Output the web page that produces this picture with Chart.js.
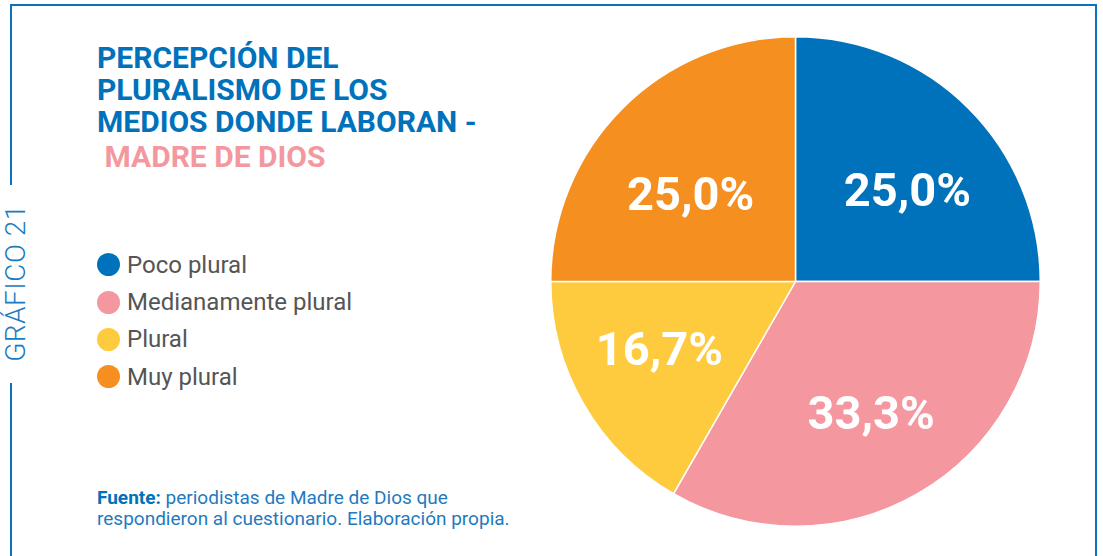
<!DOCTYPE html>
<html>
<head>
<meta charset="utf-8">
<script src="https://cdn.jsdelivr.net/npm/chart.js@4"></script>
<style>
  html, body { margin: 0; padding: 0; background: #fff; }
  body { width: 1103px; height: 556px; position: relative; overflow: hidden; font-family: Roboto, "Noto Sans", sans-serif; }
  .frame-top { position: absolute; left: 10px; top: 4px; width: 1087px; height: 2px; background: #0b72bb; }
  .frame-right { position: absolute; left: 1095px; top: 4px; width: 2px; height: 560px; background: #0b72bb; }
  .frame-left1 { position: absolute; left: 10px; top: 4px; width: 2px; height: 181px; background: #0b72bb; }
  .frame-left2 { position: absolute; left: 10px; top: 383px; width: 2px; height: 180px; background: #0b72bb; }
  .side { position: absolute; left: 15px; top: 283px; transform: translate(-50%, -50%) rotate(-90deg); color: #1a7ac2; font-weight: 300; font-size: 28px; white-space: nowrap; letter-spacing: 0.5px; }
  .title { position: absolute; left: 97px; top: 42px; color: #0071bb; font-weight: 700; font-size: 30px; line-height: 32px; }
  .title .pink { color: #f4989f; display: block; margin-top: 3px; }
  #legend { position: absolute; left: 97px; top: 246px; margin: 0; padding: 0; list-style: none; }
  #legend li { display: flex; align-items: center; height: 37.4px; color: #555; font-size: 24px; }
  #legend span.dot { width: 23px; height: 23px; border-radius: 50%; margin-right: 7px; }
  .note { position: absolute; left: 97px; top: 487px; color: #1f7ac0; font-size: 19px; line-height: 21px; }
  .note b { color: #0071bb; }
  #wrap { position: absolute; left: 550px; top: 36px; width: 491px; height: 491px; }
</style>
</head>
<body>
<div class="frame-top"></div>
<div class="frame-right"></div>
<div class="frame-left1"></div>
<div class="frame-left2"></div>
<div class="side">GRÁFICO 21</div>
<div class="title">PERCEPCIÓN DEL<br>PLURALISMO DE LOS<br>MEDIOS DONDE LABORAN -<span class="pink">&nbsp;MADRE DE DIOS</span></div>
<ul id="legend"></ul>
<div class="note"><b>Fuente:</b> periodistas de Madre de Dios que<br>respondieron al cuestionario. Elaboración propia.</div>
<div id="wrap"><canvas id="chartPie"></canvas></div>
<script>
const labels = ["Poco plural", "Medianamente plural", "Plural", "Muy plural"];
const values = [25.0, 33.3, 16.7, 25.0];
const colors = ["#0071bb", "#f4979f", "#ffcb3e", "#f58f20"];

// small nudges for the value labels, in px
const labelShift = [[8, 17], [2, 9], [-9, -2], [-1, 21]];

const valueLabels = {
  id: "valueLabels",
  afterDatasetsDraw(chart) {
    const ctx = chart.ctx;
    const meta = chart.getDatasetMeta(0);
    ctx.save();
    ctx.fillStyle = "#fff";
    ctx.font = "700 47px Roboto";
    ctx.textAlign = "center";
    ctx.textBaseline = "middle";
    meta.data.forEach(function (arc, i) {
      const mid = (arc.startAngle + arc.endAngle) / 2;
      const r = arc.outerRadius * 0.6;
      const x = arc.x + Math.cos(mid) * r + labelShift[i][0];
      const y = arc.y + Math.sin(mid) * r + labelShift[i][1];
      ctx.fillText(values[i].toFixed(1).replace(".", ",") + "%", x, y);
    });
    ctx.restore();
  },
};

const legend = document.getElementById("legend");
labels.forEach(function (l, i) {
  const li = document.createElement("li");
  li.innerHTML = '<span class="dot" style="background:' + colors[i] + '"></span>' + l;
  legend.appendChild(li);
});

var chartPie = new Chart(document.getElementById("chartPie"), {
  type: "pie",
  data: {
    labels: labels,
    datasets: [
      {
        data: values,
        backgroundColor: colors,
        borderColor: "#fff",
        borderWidth: 1.5,
      },
    ],
  },
  options: {
    responsive: true,
    maintainAspectRatio: false,
    animation: false,
    layout: { padding: 0 },
    plugins: {
      legend: { display: false },
      tooltip: { enabled: false },
    },
  },
  plugins: [valueLabels],
});
</script>
</body>
</html>
